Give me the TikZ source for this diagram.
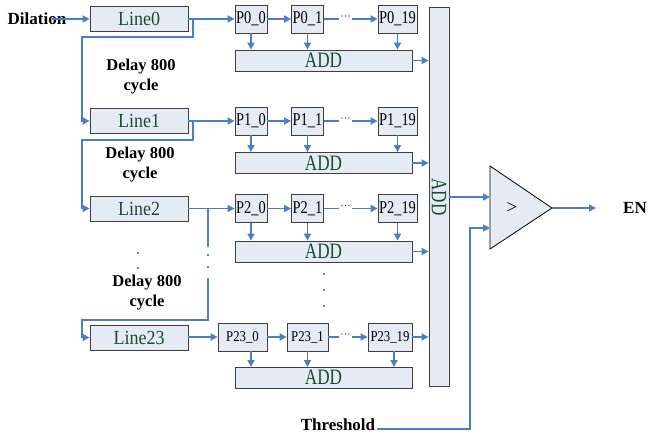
\documentclass[tikz,border=0pt]{standalone}
\usepackage{fontspec}
\setmainfont{Liberation Serif}
\newfontfamily\condA[FakeStretch=0.78]{Liberation Serif}
\newfontfamily\condP[FakeStretch=0.8]{Liberation Serif}
\newfontfamily\condQ[FakeStretch=0.85]{Liberation Serif}
\newfontfamily\condL[FakeStretch=0.9]{Liberation Serif}
\usetikzlibrary{arrows.meta}
\definecolor{boxfill}{HTML}{E4EBF5}
\definecolor{boxline}{HTML}{3F3F3F}
\definecolor{arrblue}{HTML}{4A7EC7}
\definecolor{txtgreen}{HTML}{1B4D2A}
\tikzset{
  blk/.style={draw=boxline, fill=boxfill, line width=0.8pt, inner sep=0pt},
  linebox/.style={blk, minimum width=98pt, minimum height=25pt, font=\condL\fontsize{20}{22}\selectfont, text=txtgreen},
  pbox/.style={blk, minimum height=28pt, font=\condP\fontsize{18}{20}\selectfont},
  qbox/.style={blk, minimum height=28pt, font=\condQ\fontsize{15}{17}\selectfont},
  addbox/.style={blk, minimum width=177pt, minimum height=21pt, font=\condA\fontsize{22}{23}\selectfont, text=txtgreen},
  lbl/.style={font=\bfseries\fontsize{17}{19}\selectfont, inner sep=0pt},
  dlbl/.style={font=\bfseries\fontsize{16.5}{20}\selectfont, align=center, inner sep=0pt},
  ln/.style={draw=arrblue, line width=1.6pt},
  arr/.style={ln, -{Triangle[length=7pt,width=7pt]}},
  dot/.style={fill=black},
}
\begin{document}
\begin{tikzpicture}[x=1pt,y=-1pt]
\useasboundingbox (0,0) rectangle (649,437);

% Line boxes
\node[linebox] (L0) at (139,19) {Line0};
\node[linebox] (L1) at (139,121) {Line1};
\node[linebox] (L2) at (139,208.5) {Line2};
\node[linebox] (L23) at (139,337.5) {Line23};

% Dilation
\node[lbl] (dil) at (37,19) {Dilation};
\coordinate (d0) at (52,19);
\draw[arr] (d0) -- (L0.west);

% Delay texts
\node[dlbl] (dl1) at (141,77) {Delay 800\\cycle};
\node[dlbl] (dl2) at (140,164.5) {Delay 800\\cycle};
\node[dlbl] (dl3) at (147,293) {Delay 800\\cycle};

% P boxes rows 0..2
\foreach \r/\y in {0/19,1/121,2/208.5}{
  \node[pbox, minimum width=32pt] (P\r a) at (251,\y) {P\r\_0};
  \node[pbox, minimum width=32pt] (P\r b) at (307.5,\y) {P\r\_1};
  \node[pbox, minimum width=39pt] (P\r c) at (397.5,\y) {P\r\_19};
}
% row 23
\node[qbox, minimum width=49pt] (P23a) at (242.5,337) {P23\_0};
\node[qbox, minimum width=41pt] (P23b) at (307.5,337) {P23\_1};
\node[qbox, minimum width=44pt] (P23c) at (390,337) {P23\_19};

% ADD boxes
\node[addbox] (A0) at (323.5,60.5) {ADD};
\node[addbox] (A1) at (323.5,163) {ADD};
\node[addbox] (A2) at (323.5,251.5) {ADD};
\node[addbox] (A23) at (323.5,377.5) {ADD};

% big ADD
\node[blk, minimum width=20pt, minimum height=379pt] (BA) at (439,196.5) {};
\node[rotate=-90, font=\condA\fontsize{22}{23}\selectfont, text=txtgreen, inner sep=0pt] (BAt) at (439,197) {ADD};

% comparator
\coordinate (c1) at (490,166);
\coordinate (c2) at (552,208);
\coordinate (c3) at (490,249);
\draw[draw=black, fill=boxfill, line width=0.8pt] (c1) -- (c2) -- (c3) -- cycle;
\node[font=\fontsize{19}{20}\selectfont, inner sep=0pt] (gt) at (512,208) {>};
\node[lbl] (EN) at (635,208) {EN};
\coordinate (ci1) at (490,197);
\coordinate (ci2) at (490,228);
\coordinate (co) at (596,208);
\draw[arr] (BA.east |- ci1) -- (ci1);
\draw[arr] (c2) -- (co);

% threshold
\node[lbl] (TH) at (338,425) {Threshold};
\coordinate (t0) at (377,429);
\coordinate (t1) at (470,429);
\draw[arr] (t0) -- (t1) |- (ci2);

% row connectors
\foreach \r/\y in {0/19,1/121,2/208.5}{
  \draw[arr] (L\r.east |- 0,\y) -- (P\r a.west);
  \draw[arr] (P\r a.east) -- (P\r b.west);
  \draw[ln] (P\r b.east) -- (339,\y);
  \foreach \xx in {342,345.5,349} \fill[dot] (\xx,\y-3) circle (0.7pt);
  \draw[arr] (352,\y) -- (P\r c.west);
  \draw[arr] (P\r a.south) -- (P\r a.south |- A\r.north);
  \draw[arr] (P\r b.south) -- (P\r b.south |- A\r.north);
  \draw[arr] (P\r c.south) -- (P\r c.south |- A\r.north);
  \draw[arr] (A\r.east) -- (A\r.east -| BA.west);
}
\draw[arr] (L23.east |- 0,337) -- (P23a.west);
\draw[arr] (P23a.east) -- (P23b.west);
\draw[ln] (P23b.east) -- (339,337);
\foreach \xx in {342,345.5,349} \fill[dot] (\xx,334) circle (0.7pt);
\draw[arr] (352,337) -- (P23c.west);
\draw[arr] (251,351) -- (251,367);
\draw[arr] (307.5,351) -- (307.5,367);
\draw[arr] (394,351) -- (394,367);
\draw[arr] (P23c.east) -- (P23c.east -| BA.west);

% delay loops
\coordinate (b0) at (193,19);
\coordinate (k0) at (82,37);
\draw[arr] (b0) |- (k0) |- (L1.west);
\coordinate (b1) at (193,121);
\coordinate (k1) at (82,140);
\draw[arr] (b1) |- (k1) |- (L2.west);
\coordinate (b2) at (208,208.5);
\coordinate (b2e) at (208,247);
\draw[ln] (b2) -- (b2e);
\coordinate (b3) at (208,278);
\coordinate (k3) at (82,320);
\draw[arr] (b3) |- (k3) |- (L23.west);

% ellipsis dots
\foreach \yy in {255,267} \fill[dot] (208,\yy) circle (0.9pt);
\foreach \yy in {253,268} \fill[dot] (138,\yy) circle (0.9pt);
\foreach \yy in {274,290,306} \fill[dot] (324,\yy) circle (0.9pt);
\end{tikzpicture}
\end{document}
